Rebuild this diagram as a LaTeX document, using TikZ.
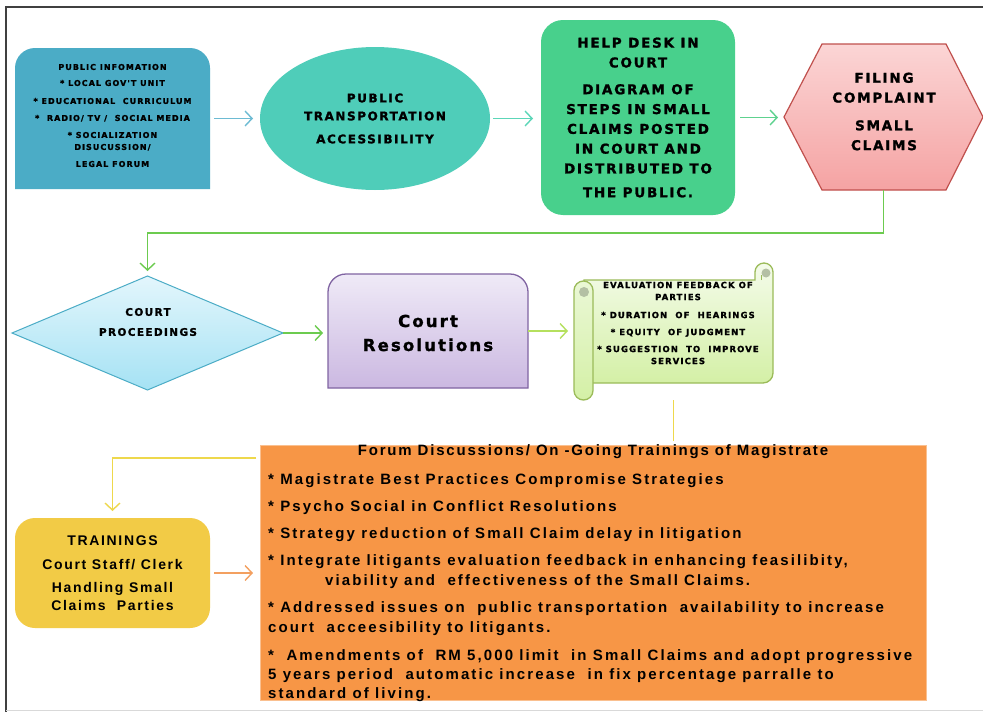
\documentclass[tikz,border=0pt]{standalone}
\usepackage{fontspec}
\setmainfont{Liberation Sans}
\newfontfamily\blk[LetterSpace=13, BoldFeatures={FakeBold=1.5}]{DejaVu Sans}
\newfontfamily\arb[LetterSpace=14]{Liberation Sans}
\newfontfamily\arbt[LetterSpace=12]{Liberation Sans}
\usetikzlibrary{shapes.geometric,arrows.meta}
\definecolor{framec}{HTML}{404040}
\definecolor{pubc}{HTML}{4BACC6}
\definecolor{ellc}{HTML}{4FCDB9}
\definecolor{helpc}{HTML}{48D08C}
\definecolor{hexTop}{HTML}{FBD5D5}
\definecolor{hexBot}{HTML}{F5A3A3}
\definecolor{hexBorder}{HTML}{C0504D}
\definecolor{diaTop}{HTML}{E3F6FC}
\definecolor{diaBot}{HTML}{A5E2F4}
\definecolor{diaBorder}{HTML}{4BACC6}
\definecolor{resTop}{HTML}{EFEAF7}
\definecolor{resBot}{HTML}{CBB8E1}
\definecolor{resBorder}{HTML}{8064A2}
\definecolor{scrTop}{HTML}{F4FBEA}
\definecolor{scrBot}{HTML}{D4F0A6}
\definecolor{scrBorder}{HTML}{9BBB59}
\definecolor{scrCurl}{HTML}{B4C0A4}
\definecolor{orangec}{HTML}{F79646}
\definecolor{trainc}{HTML}{F2CB46}
\definecolor{aBlue}{HTML}{6DBBD3}
\definecolor{aTeal}{HTML}{5CD6B8}
\definecolor{aGreen}{HTML}{5ED28F}
\definecolor{aLime}{HTML}{6CCB4F}
\definecolor{aYg}{HTML}{B5E05E}
\definecolor{aYel}{HTML}{EED84C}
\definecolor{aOr}{HTML}{F3A060}
\begin{document}
\begin{tikzpicture}[x=1pt,y=-1pt,
  shp/.style={inner sep=0pt, outer sep=0pt},
  conn/.style={line width=1.4pt, -{Straight Barb[length=7pt,width=15pt,line width=1.4pt]}},
  plainline/.style={line width=1.6pt},
  capsS/.style={font=\blk\bfseries\fontsize{8}{12}\selectfont, align=center},
  capsS2/.style={font=\blk\bfseries\fontsize{8.5}{12}\selectfont, align=center},
  capsM/.style={font=\blk\bfseries\fontsize{12}{18}\selectfont, align=center},
  capsH/.style={font=\blk\bfseries\fontsize{13.5}{19.8}\selectfont, align=center},
  capsD/.style={font=\blk\bfseries\fontsize{10.5}{20}\selectfont, align=center},
  bigres/.style={font=\blk\bfseries\fontsize{16.5}{24}\selectfont, align=center},
  trainfont/.style={font=\arbt\bfseries\fontsize{14}{18}\selectfont, align=center},
  orfont/.style={font=\arb\bfseries\fontsize{15}{20}\selectfont, inner sep=0pt},
  ortitle/.style={font=\arbt\bfseries\fontsize{15}{20}\selectfont, inner sep=0pt},
]
\useasboundingbox (0,0) rectangle (983,712);
\fill[white] (0,0) rectangle (983,712);
% frame
\draw[framec, line width=2pt] (6,712) -- (6,7) -- (983,7);
\draw[black!15, line width=1pt] (6,710.5) -- (983,710.5);

% ---- public information
\node[shp, minimum width=195pt, minimum height=141pt] (pubinfo) at (112.5,118.5) {};
\fill[pubc] (pubinfo.south west) -- ([yshift=-20pt]pubinfo.north west) arc[start angle=180, end angle=90, radius=20pt] -- ([xshift=-20pt]pubinfo.north east) arc[start angle=90, end angle=0, radius=20pt] -- (pubinfo.south east) -- cycle;
\node[capsS] (pubtxt) at (112.5,115.5) {PUBLIC INFOMATION\\[4pt]* LOCAL GOV'T UNIT\\[6pt]* EDUCATIONAL\ \ CURRICULUM\\[5pt]*\ \ RADIO/ TV /\ \ SOCIAL MEDIA\\[5pt]* SOCIALIZATION\\DISUCUSSION/\\[5pt]LEGAL FORUM};

% ---- ellipse
\node[shp, ellipse, fill=ellc, minimum width=230pt, minimum height=143pt, capsM] (ptrans) at (375,118.5) {PUBLIC\\TRANSPORTATION\\[5pt]ACCESSIBILITY};

% ---- help desk
\node[shp, rounded corners=22pt, fill=helpc, minimum width=194pt, minimum height=195pt, capsH] (help) at (638,117.5) {HELP DESK IN\\COURT\\[7pt]DIAGRAM OF\\STEPS IN SMALL\\CLAIMS POSTED\\IN COURT AND\\DISTRIBUTED TO\\[4pt]THE PUBLIC.};

% ---- hexagon
\node[shp, minimum width=199pt, minimum height=146pt] (filing) at (883.5,117) {};
\draw[draw=hexBorder, line width=1.2pt, top color=hexTop, bottom color=hexBot] (filing.west) -- ([xshift=38pt]filing.north west) -- ([xshift=-37pt]filing.north east) -- (filing.east) -- ([xshift=-37pt]filing.south east) -- ([xshift=38pt]filing.south west) -- cycle;
\node[capsH] (filingtxt) at (884,111.5) {FILING\\COMPLAINT\\[8pt]SMALL\\CLAIMS};

% ---- diamond
\node[shp, diamond, minimum width=271pt, minimum height=114pt, top color=diaTop, bottom color=diaBot, draw=diaBorder, line width=1pt] (court) at (147.5,333) {};
\node[capsD] (courttxt) at (148,322) {COURT\\PROCEEDINGS};

% ---- court resolutions
\node[shp, minimum width=200pt, minimum height=114pt] (resol) at (428,331) {};
\draw[draw=resBorder, line width=1.3pt, top color=resTop, bottom color=resBot] (resol.south west) -- ([yshift=-18pt]resol.north west) arc[start angle=180, end angle=90, radius=18pt] -- ([xshift=-18pt]resol.north east) arc[start angle=90, end angle=0, radius=18pt] -- (resol.south east) -- cycle;
\node[bigres] (resoltxt) at (428,333) {Court\\Resolutions};

% ---- scroll
\node[shp, minimum width=199pt, minimum height=103pt] (scroll) at (673.5,331.5) {};
\draw[draw=scrBorder, line width=1.3pt, top color=scrTop, bottom color=scrBot]
  (773,272) arc[start angle=0, end angle=180, radius=9pt] -- (755,280) -- (584,280) -- (584,383) -- (763,383) arc[start angle=270, end angle=360, radius=10pt] -- cycle;
\fill[scrCurl] (766,273) circle[radius=4.5pt];
\draw[scrBorder, line width=1pt] (761,280) -- (761,275);
\draw[draw=scrBorder, line width=1.3pt, top color=scrTop!70!scrBot, bottom color=scrBot, rounded corners=9.5pt] (574,281) rectangle (593,400);
\fill[scrCurl] (584,292) circle[radius=5pt];
\node[capsS2] (scrolltxt) at (678,323) {EVALUATION FEEDBACK OF\\PARTIES\\[6pt]* DURATION\ \ OF\ \ HEARINGS\\[5pt]* EQUITY\ \ OF JUDGMENT\\[5pt]* SUGGESTION\ \ TO\ \ IMPROVE\\SERVICES};

% ---- forum box
\node[shp, fill=orangec, draw=orangec!60!white, line width=0.6pt, minimum width=666pt, minimum height=255pt] (forum) at (593,572.5) {};
\node[ortitle, anchor=base] (ftitle) at (593,455) {Forum Discussions/ On -Going Trainings of Magistrate};
\node[orfont, anchor=base west] (f1) at (268,484) {* Magistrate Best Practices Compromise Strategies};
\node[orfont, anchor=base west] (f2) at (268,511) {* Psycho Social in Conflict Resolutions};
\node[orfont, anchor=base west] (f3) at (268,538) {* Strategy reduction of Small Claim delay in litigation};
\node[orfont, anchor=base west] (f4) at (268,565) {* Integrate litigants evaluation feedback in enhancing feasilibity,};
\node[orfont, anchor=base west] (f5) at (325,585) {viability and\ \ effectiveness of the Small Claims.};
\node[orfont, anchor=base west] (f6) at (268,612) {* Addressed issues on\ \ public transportation\ \ availability to increase};
\node[orfont, anchor=base west] (f7) at (268,632) {court\ \ acceesibility to litigants.};
\node[orfont, anchor=base west] (f8) at (268,660) {*\ \ Amendments of\ \ RM 5,000 limit\ \ in Small Claims and adopt progressive};
\node[orfont, anchor=base west] (f9) at (268,679) {5 years period\ \ automatic increase\ \ in fix percentage parralle to};
\node[orfont, anchor=base west] (f10) at (268,698) {standard of living.};

% ---- trainings
\node[shp, rounded corners=20pt, fill=trainc, minimum width=195pt, minimum height=110pt, trainfont] (train) at (112.5,573) {TRAININGS\\[6pt]Court Staff/ Clerk\\[5pt]Handling Small\\Claims\ \ Parties};

% ---- connectors
\draw[conn, aBlue, shorten <=4pt, shorten >=7pt] (pubinfo.east) -- (pubinfo.east -| ptrans.west);
\draw[conn, aTeal, shorten <=3pt, shorten >=8pt] (ptrans.east) -- (ptrans.east -| help.west);
\draw[conn, aGreen, shorten <=5pt, shorten >=6pt] (help.east) -- (help.east -| filing.west);
\draw[conn, aLime] (filing.south) -- ++(0,43) -| ([yshift=5pt]court.north);
\draw[conn, aLime, shorten >=5pt] (court.east) -- (court.east -| resol.west);
\draw[conn, aYg, shorten >=6pt] (resol.east) -- (resol.east -| scroll.west);
\draw[plainline, aYel, shorten <=17pt, shorten >=4pt] (scroll.south) -- (scroll.south |- forum.north);
\draw[conn, aYel, shorten <=4pt, shorten >=7pt] ([yshift=-13pt]forum.north west) -| (train.north);
\draw[conn, aOr, shorten <=4pt, shorten >=7pt] (train.east) -- (train.east -| forum.west);
\end{tikzpicture}
\end{document}
